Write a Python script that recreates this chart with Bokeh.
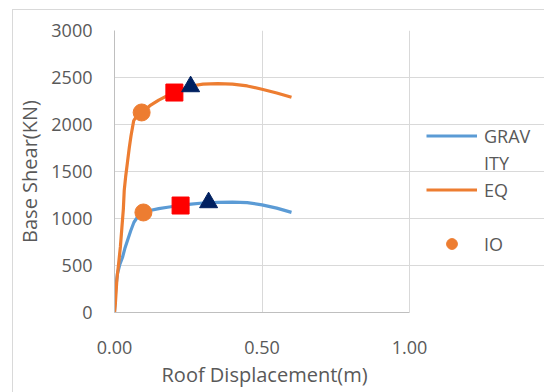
from bokeh.plotting import figure
from bokeh.models import (Range1d, FixedTicker, Legend, LegendItem, NumeralTickFormatter,
                          Title, InlineStyleSheet)
from bokeh.embed import file_html
from bokeh.resources import INLINE

# ---- data ----
grav_x = [0, 0.004, 0.01, 0.018, 0.027, 0.035, 0.044, 0.055, 0.066, 0.08, 0.098,
          0.12, 0.15, 0.18, 0.22, 0.26, 0.30, 0.35, 0.40, 0.45, 0.50, 0.55, 0.60]
grav_y = [0, 250, 415, 510, 585, 680, 766, 870, 960, 1025, 1064,
          1085, 1105, 1120, 1138, 1152, 1165, 1172, 1175, 1168, 1145, 1110, 1065]

eq_x = [0, 0.003, 0.008, 0.014, 0.02, 0.025, 0.03, 0.033, 0.038, 0.044, 0.05, 0.056,
        0.065, 0.075, 0.092, 0.12, 0.15, 0.20, 0.26, 0.30, 0.35, 0.40, 0.45, 0.50, 0.55, 0.60]
eq_y = [0, 96, 350, 520, 700, 900, 1100, 1300, 1450, 1600, 1750, 1880,
        2040, 2090, 2128, 2200, 2260, 2340, 2410, 2430, 2435, 2430, 2410, 2375, 2335, 2290]

io_x = [0.098, 0.092]
io_y = [1064, 2128]
ls_x = [0.224, 0.203]
ls_y = [1138, 2340]
cp_x = [0.319, 0.258]
cp_y = [1170, 2404]

x_ticks = [0.0, 0.5, 1.0]
y_ticks = [0, 500, 1000, 1500, 2000, 2500, 3000]
x_max = 1.0
y_max = 3000

FONT = "Open Sans"
TXT = "#595959"
BLUE = "#5b9bd5"
ORANGE = "#ed7d31"
GRID = "#d9d9d9"

# plot area is 295 px wide for 0..1; the frame is extended to the right to host the legend
FRAME_W = 430
PLOT_W = 295
p = figure(width=544, height=392, output_backend="svg", toolbar_location=None,
           x_range=Range1d(0, x_max * FRAME_W / PLOT_W), y_range=Range1d(0, y_max),
           min_border_left=114, min_border_right=0, min_border_top=30, min_border_bottom=80)

# chart-area border (left and top edges visible, as in the reference)
p.stylesheets = [InlineStyleSheet(css="""
:host { position: relative; }
:host::after { content: ""; position: absolute; left: 12px; top: 9px; right: 0; bottom: 0;
  border-left: 1px solid #d9d9d9; border-top: 1px solid #d9d9d9; pointer-events: none; }
""")]

p.xaxis.ticker = FixedTicker(ticks=x_ticks)
p.yaxis.ticker = FixedTicker(ticks=y_ticks)
p.xaxis.formatter = NumeralTickFormatter(format="0.00")
p.xaxis.bounds = (0, x_max)

for ax in (p.xaxis, p.yaxis):
    ax.major_tick_line_color = None
    ax.minor_tick_line_color = None
    ax.major_tick_out = 0
    ax.major_tick_in = 0
    ax.axis_line_color = "#bfbfbf"
    ax.axis_line_width = 1
    ax.major_label_text_font = FONT
    ax.major_label_text_font_size = "18px"
    ax.major_label_text_color = TXT
    ax.axis_label_text_font = FONT
    ax.axis_label_text_font_size = "20px"
    ax.axis_label_text_font_style = "normal"
    ax.axis_label_text_color = TXT

p.yaxis.axis_label = "Base Shear(KN)"
p.xaxis.major_label_standoff = 28
p.yaxis.major_label_standoff = 22
p.yaxis.axis_label_standoff = 5

p.xgrid.grid_line_color = GRID
p.ygrid.grid_line_color = GRID
p.ygrid.bounds = (0, x_max)
p.outline_line_color = None
p.background_fill_color = "white"
p.border_fill_color = "white"

xtitle = Title(text="Roof Displacement(m)", align="left", offset=47, standoff=4,
               text_font=FONT, text_font_size="20px", text_font_style="normal",
               text_color=TXT, text_line_height=1.0)
p.add_layout(xtitle, "below")

r_grav = p.line(grav_x, grav_y, line_color=BLUE, line_width=3.2)
r_eq = p.line(eq_x, eq_y, line_color=ORANGE, line_width=3.2)
r_dummy = p.line([], [], line_alpha=0)
r_io = p.scatter(io_x, io_y, marker="circle", size=17, fill_color=ORANGE, line_color=ORANGE)
p.scatter(ls_x, ls_y, marker="square", size=17, fill_color="#ff0000", line_color="#ff0000")
p.scatter(cp_x, cp_y, marker="triangle", size=18, fill_color="#002060", line_color="#002060")

legend = Legend(items=[LegendItem(label="GRAV", renderers=[r_grav]),
                       LegendItem(label="ITY", renderers=[r_dummy]),
                       LegendItem(label="EQ", renderers=[r_eq]),
                       LegendItem(label=" ", renderers=[r_dummy]),
                       LegendItem(label="IO", renderers=[r_io])],
                location=(312, 55))
legend.border_line_color = None
legend.background_fill_alpha = 0
legend.padding = 0
legend.margin = 0
legend.glyph_width = 51
legend.glyph_height = 27
legend.label_height = 27
legend.spacing = 0
legend.label_standoff = 7
legend.label_text_font = FONT
legend.label_text_font_size = "18px"
legend.label_text_color = TXT
p.add_layout(legend)

open("out.html", "w").write(file_html(p, INLINE))
